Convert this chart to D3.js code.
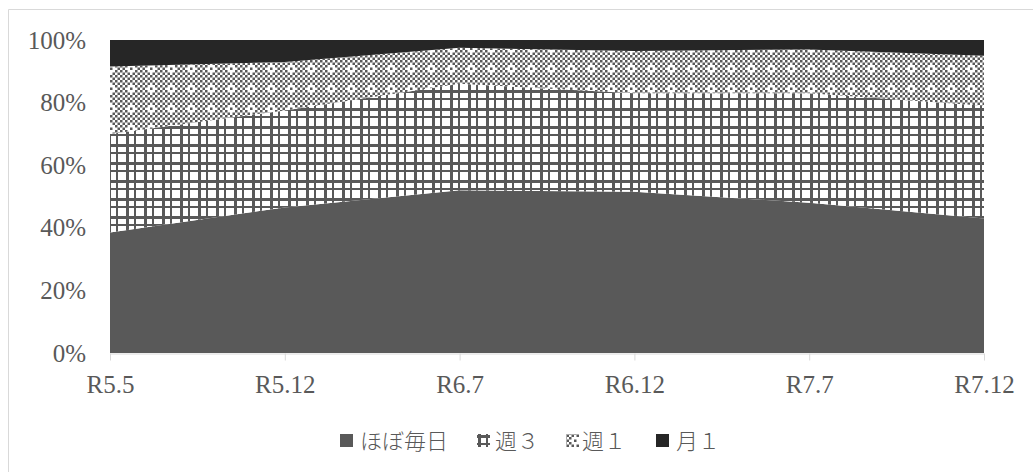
<!DOCTYPE html>
<html>
<head>
<meta charset="utf-8">
<script src="https://cdn.jsdelivr.net/npm/d3@7"></script>
<style>
  html, body { margin: 0; padding: 0; background: #fff; }
  svg { display: block; }
  .tick text { font-family: "Liberation Serif", "DejaVu Serif", serif; }
</style>
</head>
<body>
<svg id="chart" width="1033" height="472"></svg>
<script>
// Survey periods
const categories = ["R5.5", "R5.12", "R6.7", "R6.12", "R7.7", "R7.12"];
// Share of respondents (%) by frequency
const almostDaily = [38.5, 46.5, 52, 51.5, 48, 43];
const thriceWeekly = [31.5, 31, 34, 31.5, 35, 36];
const onceWeekly = [21.5, 15.5, 11.5, 13.5, 14, 16];
const onceMonthly = [8.5, 7, 2.5, 3.5, 3, 5];
const seriesNames = ["ほぼ毎日", "週３", "週１", "月１"];
const yTicks = [0, 20, 40, 60, 80, 100];

const keys = ["daily", "w3", "w1", "m1"];
const table = categories.map((c, i) => ({
  cat: c, daily: almostDaily[i], w3: thriceWeekly[i], w1: onceWeekly[i], m1: onceMonthly[i]
}));

const svg = d3.select("#chart");
const W = 1033, H = 472;
const plot = { left: 110, right: 984, top: 40, bottom: 353 };

// chart frame
svg.append("path")
  .attr("d", `M8.5,${H}V9.5H${W}`)
  .attr("fill", "none").attr("stroke", "#d9d9d9").attr("stroke-width", 1);

// fill patterns
const defs = svg.append("defs");
const ink = "#595959";

// plaid grid pattern: two lines per tile in each direction
function gridPattern(id, ox, oy) {
  const cell = 18;
  const p = defs.append("pattern").attr("id", id)
    .attr("patternUnits", "userSpaceOnUse")
    .attr("x", ox).attr("y", oy)
    .attr("width", cell).attr("height", cell);
  p.append("rect").attr("width", cell).attr("height", cell).attr("fill", "#fff");
  [[0, 3], [8, 2]].forEach(([o, w]) => {
    p.append("rect").attr("x", o).attr("y", 0).attr("width", w).attr("height", cell).attr("fill", ink);
    p.append("rect").attr("x", 0).attr("y", o).attr("width", cell).attr("height", w).attr("fill", ink);
  });
}
gridPattern("pat-grid", 0, 0);
gridPattern("pat-grid-key", 478, 435);

// checkered ring pattern
const dotRows = [
  "#.#.#.#.",
  ".#.#.#.#",
  "#.#...#.",
  ".#..#..#",
  "#.#...#.",
  ".#.#.#.#",
  "#.#.#.#.",
  ".#.#.#.#"
];
function dotPattern(id, ox, oy) {
  const px = 2.5, tile = px * 8;
  const p = defs.append("pattern").attr("id", id)
    .attr("patternUnits", "userSpaceOnUse")
    .attr("x", ox).attr("y", oy)
    .attr("width", tile).attr("height", tile);
  p.append("rect").attr("width", tile).attr("height", tile).attr("fill", "#fff");
  dotRows.forEach((row, r) => {
    row.split("").forEach((ch, c) => {
      if (ch === "#") p.append("rect")
        .attr("x", c * px).attr("y", r * px).attr("width", px).attr("height", px)
        .attr("fill", ink);
    });
  });
}
dotPattern("pat-dots", 0, 0);
dotPattern("pat-dots-key", 564, 432);

const fills = { daily: "#595959", w3: "url(#pat-grid)", w1: "url(#pat-dots)", m1: "#262626" };

// scales
const x = d3.scalePoint().domain(categories).range([plot.left, plot.right]);
const y = d3.scaleLinear().domain([0, 100]).range([plot.bottom, plot.top]);

const stacked = d3.stack().keys(keys)(table);
const area = d3.area()
  .x(d => x(d.data.cat))
  .y0(d => y(d[0]))
  .y1(d => y(d[1]));

svg.append("g").selectAll("path")
  .data(stacked)
  .join("path")
  .attr("d", area)
  .attr("fill", d => fills[d.key]);

// x axis
const xAxis = svg.append("g")
  .attr("transform", `translate(0,${plot.bottom + 0.5})`)
  .call(d3.axisBottom(x).tickSize(7).tickPadding(15));
xAxis.select(".domain").attr("stroke", "#d9d9d9").attr("d", `M${plot.left},0.5H${plot.right}`);
xAxis.selectAll(".tick line").attr("stroke", "#d9d9d9");
xAxis.selectAll(".tick text")
  .attr("fill", "#595959").attr("font-size", 25).attr("dy", "0.71em");

// y axis labels
const yAxis = svg.append("g")
  .attr("transform", `translate(${plot.left},0)`)
  .call(d3.axisLeft(y).tickValues(yTicks).tickFormat(d => d + "%").tickSize(0).tickPadding(24));
yAxis.select(".domain").remove();
yAxis.selectAll(".tick text").attr("fill", "#595959").attr("font-size", 25);

// legend
const legendItems = [
  { name: seriesNames[0], fill: fills.daily, sx: 340, tx: 360 },
  { name: seriesNames[1], fill: "url(#pat-grid-key)", sx: 477, tx: 495 },
  { name: seriesNames[2], fill: "url(#pat-dots-key)", sx: 566, tx: 582 },
  { name: seriesNames[3], fill: fills.m1, sx: 656, tx: 676 }
];
const legend = svg.append("g");
legend.selectAll("rect")
  .data(legendItems)
  .join("rect")
  .attr("x", d => d.sx).attr("y", 434)
  .attr("width", 13).attr("height", 13)
  .attr("fill", d => d.fill);
legend.selectAll("text")
  .data(legendItems)
  .join("text")
  .attr("x", d => d.tx).attr("y", 441)
  .attr("dy", "0.36em")
  .attr("font-family", "'Noto Sans CJK JP', sans-serif")
  .attr("font-weight", 300)
  .attr("font-size", 22)
  .attr("fill", "#595959")
  .text(d => d.name);
</script>
</body>
</html>
